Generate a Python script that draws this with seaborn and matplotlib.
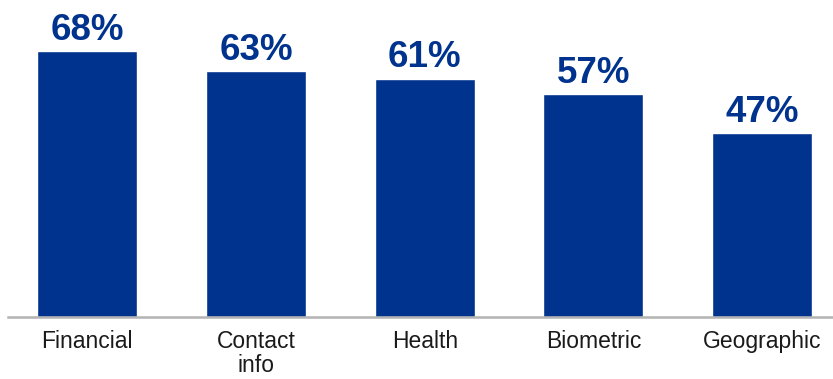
import matplotlib
matplotlib.use("Agg")
import matplotlib.pyplot as plt
import seaborn as sns
import pandas as pd

categories = ["Financial", "Contact\ninfo", "Health", "Biometric", "Geographic"]
values = [68, 63, 61, 57, 47]

bar_color = "#00338D"

sns.set_theme(style="white")
plt.rcParams["font.family"] = ["Liberation Sans", "DejaVu Sans"]

df = pd.DataFrame({"category": categories, "value": values})

fig = plt.figure(figsize=(8.33, 3.79), dpi=100)
ax = fig.add_axes([8 / 833, 62.5 / 379, 1 - 8 / 833, 316.5 / 379])

sns.barplot(data=df, x="category", y="value", color=bar_color,
            saturation=1, width=0.593, ax=ax)

for i, v in enumerate(values):
    ax.text(i, v + 2.9, f"{v}%", ha="center", va="baseline",
            fontsize=26.5, fontweight="bold", color=bar_color)

ax.set_xlim(-0.47, 4.42)
ax.set_ylim(0, 81.2)
ax.set_xlabel("")
ax.set_ylabel("")
ax.set_yticks([])
ax.tick_params(axis="x", length=0, pad=10, labelsize=16.5, labelcolor="#1a1a1a")
for lbl in ax.get_xticklabels():
    lbl.set_linespacing(1.05)
for s in ["top", "right", "left"]:
    ax.spines[s].set_visible(False)
ax.spines["bottom"].set_color("#b3b3b3")
ax.spines["bottom"].set_linewidth(1.8)

fig.savefig("out.png", dpi=100)
